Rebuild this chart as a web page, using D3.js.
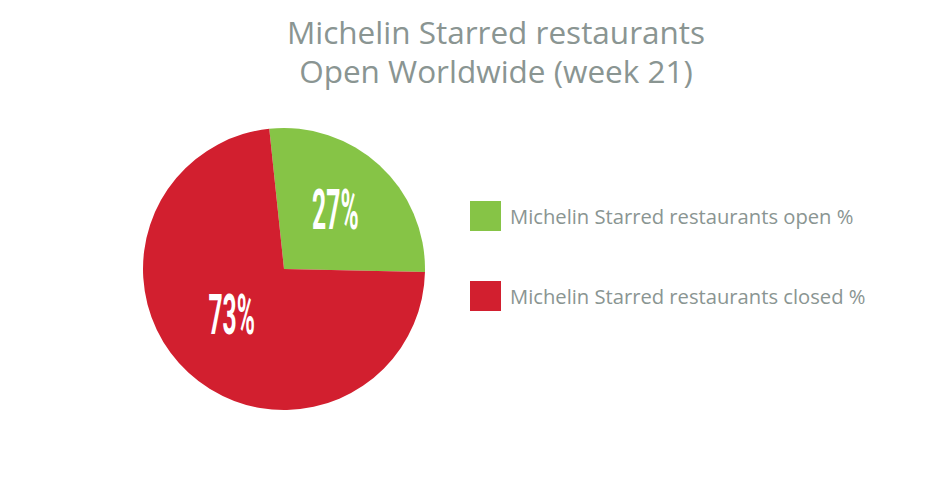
<!DOCTYPE html>
<html>
<head>
<meta charset="utf-8">
<script src="https://cdn.jsdelivr.net/npm/d3@7"></script>
<style>
  body { margin: 0; background: #fff; }
  svg { display: block; }
  .title { font-family: "Open Sans", sans-serif; fill: #8a9592; font-size: 31.5px; }
  .legend-label { font-family: "Open Sans", sans-serif; fill: #8a9592; font-size: 20.2px; }
  .slice-label { font-family: Roboto, sans-serif; font-weight: bold; fill: #fff; font-size: 56px; }
</style>
</head>
<body>
<div id="chart"></div>
<script>
const categories = ["Michelin Starred restaurants open %", "Michelin Starred restaurants closed %"];
const values = [27, 73];
const sliceLabels = ["27%", "73%"];
const titleLines = ["Michelin Starred restaurants", "Open Worldwide (week 21)"];
const colors = ["#86c446", "#d21f2f"];

const width = 950, height = 482;
const cx = 284, cy = 269, radius = 141;

const svg = d3.select("#chart").append("svg")
  .attr("width", width)
  .attr("height", height);

// title
svg.append("text")
  .attr("class", "title")
  .attr("text-anchor", "middle")
  .selectAll("tspan")
  .data(titleLines)
  .join("tspan")
  .attr("x", 496)
  .attr("y", (d, i) => 44 + i * 39)
  .text(d => d);

const color = d3.scaleOrdinal().domain(categories).range(colors);

const offset = -6 * Math.PI / 180;
const pie = d3.pie()
  .sort(null)
  .value(d => d.value)
  .startAngle(offset)
  .endAngle(offset + Math.PI * 2);

const data = categories.map((c, i) => ({ name: c, value: values[i], label: sliceLabels[i] }));
const arcs = pie(data);

const arc = d3.arc().innerRadius(0).outerRadius(radius);
const labelArc = d3.arc().innerRadius(radius * 0.58).outerRadius(radius * 0.58);

const g = svg.append("g").attr("transform", `translate(${cx},${cy})`);

g.selectAll("path")
  .data(arcs)
  .join("path")
  .attr("d", arc)
  .attr("fill", d => color(d.data.name));

// condensed labels: squeeze horizontally
g.selectAll("text")
  .data(arcs)
  .join("text")
  .attr("class", "slice-label")
  .attr("text-anchor", "middle")
  .attr("transform", (d, i) => {
    const [x, y] = labelArc.centroid(d);
    const shift = i === 0 ? [-4, 20] : [3, 5];
    return `translate(${x + shift[0]},${y + shift[1]}) scale(0.44,1)`;
  })
  .text(d => d.data.label);

// legend
const legend = svg.append("g").attr("transform", "translate(470,201)");
const item = legend.selectAll("g")
  .data(categories)
  .join("g")
  .attr("transform", (d, i) => `translate(0,${i * 80})`);

item.append("rect")
  .attr("width", 31)
  .attr("height", 30)
  .attr("fill", d => color(d));

item.append("text")
  .attr("class", "legend-label")
  .attr("x", 40)
  .attr("y", 23)
  .text(d => d);
</script>
</body>
</html>
